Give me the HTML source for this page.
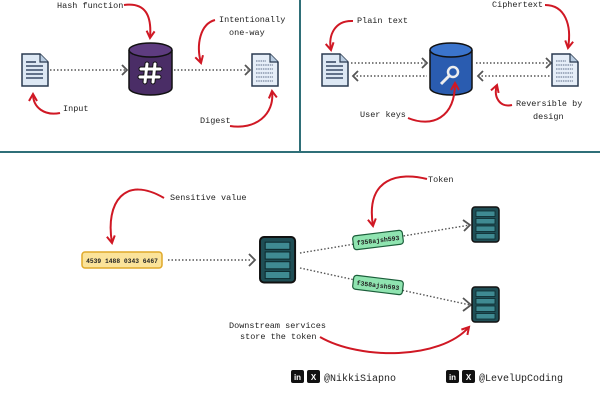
<!DOCTYPE html>
<html><head><style>
html,body{margin:0;padding:0;background:#fff}
svg{display:block}
text{font-family:"Liberation Mono","DejaVu Sans Mono",monospace;fill:#222}
</style></head><body>
<svg width="600" height="400" viewBox="0 0 600 400" xmlns="http://www.w3.org/2000/svg">
<defs>
<marker id="ra" viewBox="0 0 10 10" refX="8" refY="5" markerWidth="5" markerHeight="5" orient="auto"><path d="M1,1 L8,5 L1,9" fill="none" stroke="#d01824" stroke-width="2"/></marker>
<g id="doc"><path d="M0,0 H18 L26,8 V32 H0 Z" fill="#dde8f4" stroke="#2a3a50" stroke-width="1.5"/><path d="M18,0 V8 H26" fill="#b8cbe0" stroke="#2a3a50" stroke-width="1.2"/>
<g stroke="#3a4a66" stroke-width="1.6"><line x1="4" y1="8" x2="14" y2="8"/><line x1="4" y1="12" x2="21" y2="12"/><line x1="4" y1="16" x2="21" y2="16"/><line x1="4" y1="20" x2="21" y2="20"/><line x1="4" y1="24" x2="21" y2="24"/></g></g>
<g id="doc2"><path d="M0,0 H18 L26,8 V32 H0 Z" fill="#e6eef8" stroke="#2a3a50" stroke-width="1.5"/><path d="M18,0 V8 H26" fill="#b8cbe0" stroke="#2a3a50" stroke-width="1.2"/>
<g stroke="#5a6a86" stroke-width="1" stroke-dasharray="1.5 0.8"><line x1="4" y1="7" x2="14" y2="7"/><line x1="4" y1="11" x2="21" y2="11"/><line x1="4" y1="15" x2="21" y2="15"/><line x1="4" y1="19" x2="21" y2="19"/><line x1="4" y1="23" x2="21" y2="23"/><line x1="4" y1="27" x2="21" y2="27"/></g></g>
<g id="srv"><rect x="0" y="0" width="27" height="35" rx="3" fill="#1f4e55" stroke="#111" stroke-width="1.5"/>
<g fill="#3f8a92" stroke="#0d2a2e" stroke-width="0.8"><rect x="4" y="4" width="19" height="5.5"/><rect x="4" y="11.5" width="19" height="5.5"/><rect x="4" y="19" width="19" height="5.5"/><rect x="4" y="26.5" width="19" height="5.5"/></g></g>
</defs>
<line x1="300" y1="0" x2="300" y2="152" stroke="#2f6f78" stroke-width="2"/>
<line x1="0" y1="152" x2="600" y2="152" stroke="#2f6f78" stroke-width="2"/>
<g stroke="#555" stroke-width="1.4" stroke-dasharray="1.5 2" fill="none">
<line x1="50" y1="70" x2="125" y2="70"/><line x1="174" y1="70" x2="248" y2="70"/>
<line x1="351" y1="63" x2="425" y2="63"/><line x1="353" y1="76" x2="427" y2="76"/>
<line x1="476" y1="63" x2="549" y2="63"/><line x1="478" y1="76" x2="551" y2="76"/>
<line x1="168" y1="260" x2="252" y2="260"/>
<line x1="300" y1="253" x2="470" y2="225"/><line x1="300" y1="268" x2="470" y2="305"/>
</g>
<g stroke="#555" stroke-width="1.8" fill="none">
<path d="M122,65 L127,70 L122,75"/><path d="M245,65 L250,70 L245,75"/>
<path d="M422,58 L427,63 L422,68"/><path d="M358,71 L353,76 L358,81"/>
<path d="M546,58 L551,63 L546,68"/><path d="M483,71 L478,76 L483,81"/>
<path d="M249,254 L255,260 L249,266"/>
<path d="M463,220 L470,225 L464,231"/><path d="M463,298 L471,305 L463,311"/>
</g>
<use href="#doc" x="22" y="54"/><use href="#doc2" x="252" y="54"/>
<use href="#doc" x="322" y="54"/><use href="#doc2" x="552" y="54"/>
<path d="M129,50 V88 A21.5,7 0 0 0 172,88 V50" fill="#4a2d66" stroke="#111" stroke-width="1.5"/>
<ellipse cx="150.5" cy="50" rx="21.5" ry="7" fill="#5e3c80" stroke="#111" stroke-width="1.5"/>
<g stroke="#111" stroke-width="5" stroke-linecap="round"><line x1="147" y1="64" x2="145" y2="82"/><line x1="155" y1="64" x2="153" y2="82"/><line x1="141" y1="69" x2="160" y2="69"/><line x1="140" y1="77" x2="159" y2="77"/></g>
<g stroke="#fff" stroke-width="3" stroke-linecap="round"><line x1="147" y1="64" x2="145" y2="82"/><line x1="155" y1="64" x2="153" y2="82"/><line x1="141" y1="69" x2="160" y2="69"/><line x1="140" y1="77" x2="159" y2="77"/></g>
<path d="M430,50 V88 A21,7 0 0 0 472,88 V50" fill="#2a5cb0" stroke="#111" stroke-width="1.5"/>
<ellipse cx="451" cy="50" rx="21" ry="7" fill="#3b74cc" stroke="#111" stroke-width="1.5"/>
<circle cx="453" cy="72" r="5" fill="none" stroke="#eee" stroke-width="2.5"/>
<line x1="449" y1="76" x2="441" y2="84" stroke="#eee" stroke-width="3"/>
<g stroke="#d01824" stroke-width="2" fill="none" marker-end="url(#ra)">
<path d="M124,5 C145,2 152,15 150,38"/>
<path d="M215,20 C200,24 196,45 201,63"/>
<path d="M60,113 C45,116 33,108 33,94"/>
<path d="M230,126 C255,130 275,115 272,91"/>
<path d="M353,21 C335,20 328,35 331,50"/>
<path d="M545,5 C565,5 572,25 568,48"/>
<path d="M408,118 C432,128 455,118 455,83"/>
<path d="M512,105 C500,108 493,97 497,85"/>
<path d="M164,198 C125,175 105,202 112,243"/>
<path d="M427,179 C400,172 365,177 373,226"/>
<path d="M320,337 C360,360 440,360 469,327"/>
</g>
<g font-size="8.5">
<text x="57" y="8">Hash function</text>
<text x="219" y="22">Intentionally</text><text x="229" y="35">one-way</text>
<text x="63" y="111">Input</text>
<text x="200" y="123">Digest</text>
<text x="357" y="23">Plain text</text>
<text x="492" y="7">Ciphertext</text>
<text x="360" y="117">User keys</text>
<text x="516" y="106">Reversible by</text><text x="533" y="119">design</text>
<text x="170" y="200">Sensitive value</text>
<text x="428" y="182">Token</text>
<text x="229" y="328">Downstream services</text><text x="240" y="339">store the token</text>
</g>
<rect x="82" y="252" width="80" height="16" rx="3" fill="#fbe39a" stroke="#e0a92a" stroke-width="1.5"/>
<text x="122" y="263" text-anchor="middle" style="font:bold 6.3px 'Liberation Mono',monospace">4539 1488 0343 6467</text>
<g transform="translate(260,237) scale(1.3)"><use href="#srv"/></g>
<use href="#srv" x="472" y="207"/><use href="#srv" x="472" y="287"/>
<g transform="translate(378,240) rotate(-7)"><rect x="-25" y="-7" width="50" height="14" rx="3" fill="#8fe4b0" stroke="#1b5e3a" stroke-width="1.2"/><text x="0" y="2.5" text-anchor="middle" style="font:bold 6.5px 'Liberation Mono',monospace">f358ajsh593</text></g>
<g transform="translate(378,285) rotate(7)"><rect x="-25" y="-7" width="50" height="14" rx="3" fill="#8fe4b0" stroke="#1b5e3a" stroke-width="1.2"/><text x="0" y="2.5" text-anchor="middle" style="font:bold 6.5px 'Liberation Mono',monospace">f358ajsh593</text></g>
<rect x="291" y="370" width="13" height="13" rx="2" fill="#111"/><text x="297.5" y="380" text-anchor="middle" style="font:bold 8px 'Liberation Sans',sans-serif;fill:#fff">in</text>
<rect x="307" y="370" width="13" height="13" rx="2" fill="#111"/><text x="313.5" y="380" text-anchor="middle" style="font:bold 8px 'Liberation Sans',sans-serif;fill:#fff">X</text>
<text x="324" y="381" style="font-size:10px">@NikkiSiapno</text>
<rect x="446" y="370" width="13" height="13" rx="2" fill="#111"/><text x="452.5" y="380" text-anchor="middle" style="font:bold 8px 'Liberation Sans',sans-serif;fill:#fff">in</text>
<rect x="462" y="370" width="13" height="13" rx="2" fill="#111"/><text x="468.5" y="380" text-anchor="middle" style="font:bold 8px 'Liberation Sans',sans-serif;fill:#fff">X</text>
<text x="479" y="381" style="font-size:10px">@LevelUpCoding</text>
</svg>
</body></html>
